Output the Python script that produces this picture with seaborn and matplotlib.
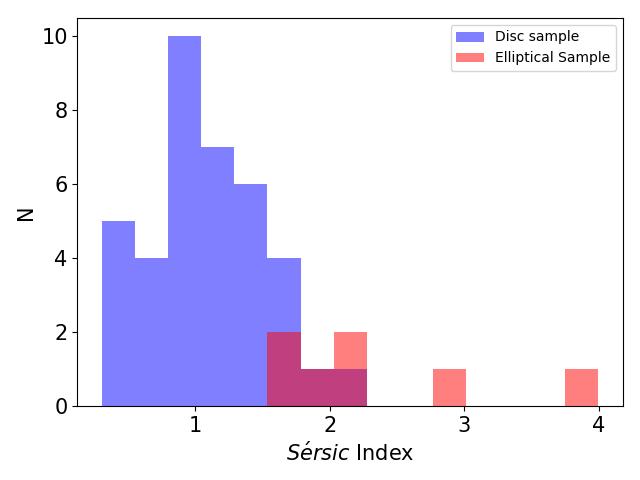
import numpy as np
import pandas as pd
import seaborn as sns
import matplotlib
matplotlib.use('Agg')
import matplotlib.pyplot as plt

# representative Sersic index per histogram bin and the number of galaxies in it
disc_n = [0.43, 0.68, 0.92, 1.17, 1.41, 1.66, 1.91, 2.15]
disc_count = [5, 4, 10, 7, 6, 4, 1, 1]
ell_n = [1.66, 1.91, 2.15, 2.89, 3.87]
ell_count = [2, 1, 2, 1, 1]

n_bins = 15
n_range = (0.3075, 3.995)

df = pd.DataFrame({'n': disc_n, 'N': disc_count})
df['System'] = 'Disc sample'
temp = pd.DataFrame({'n': ell_n, 'N': ell_count})
temp['System'] = 'Elliptical Sample'

fig, ax = plt.subplots(figsize=(6.4, 4.8), dpi=100)
sns.histplot(x='n', weights='N', data=df, bins=n_bins, binrange=n_range,
             color='blue', alpha=0.5, linewidth=0, label='Disc sample', ax=ax)
sns.histplot(x='n', weights='N', data=temp, bins=n_bins, binrange=n_range,
             color='red', alpha=0.5, linewidth=0, label='Elliptical Sample', ax=ax)

ax.set_xlabel(r"$S\acute{e}rsic$ Index", fontsize=15)
ax.set_ylabel("N", fontsize=15)
ax.tick_params(labelsize=15)
ax.legend(loc='upper right')
plt.subplots_adjust(left=0.121, right=0.973, top=0.9625, bottom=0.154)
plt.savefig('out.png')
